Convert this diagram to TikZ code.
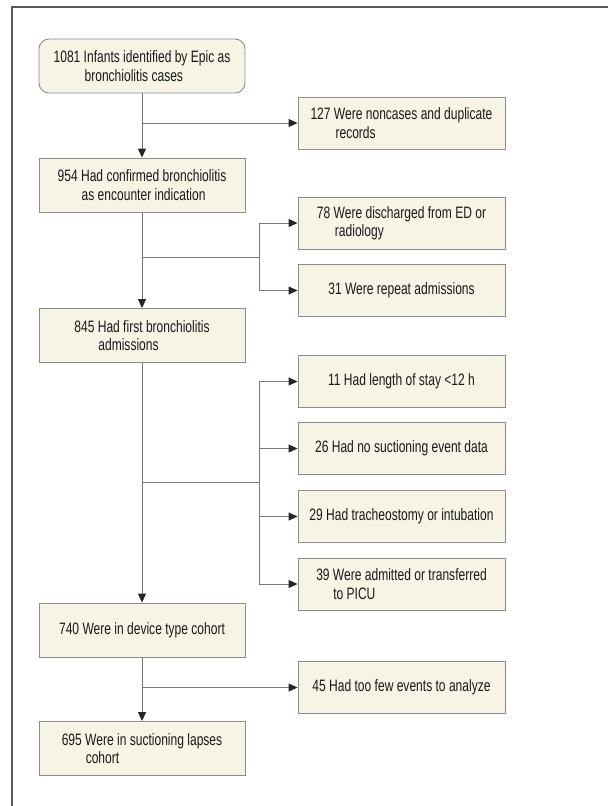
\documentclass[tikz,border=0pt]{standalone}
\usepackage{fontspec}
\setmainfont{Liberation Sans}[FakeStretch=0.73]
\usetikzlibrary{arrows.meta}

\definecolor{boxfill}{HTML}{F7F4E6}
\definecolor{boxline}{HTML}{8C8C8C}
\definecolor{flowline}{HTML}{7A7A7A}

\newcommand{\twoline}[3]{#1\\\hspace*{#2}#3}

\tikzset{
	stepbox/.style={draw=boxline, fill=boxfill, line width=0.9pt, minimum width=206pt, minimum height=54pt, inner sep=0pt, align=left, text=black!90, font=\fontsize{16.5}{18.5}\selectfont},
	sidebox/.style={stepbox, minimum width=207pt, minimum height=52pt},
	startbox/.style={stepbox, rounded corners=10pt},
	flow/.style={draw=flowline, line width=0.9pt},
	flowarrow/.style={flow, -{Triangle[length=9pt,width=8pt,color=black!85]}}
}

\begin{document}
\begin{tikzpicture}[x=1pt, y=-1pt]
		\useasboundingbox (0,0) rectangle (608,806);
		%frame
		\draw[line width=1.4pt, draw=black!65] (12,806) -- (12,7) -- (608,7);
		% main column
		\node[startbox] (b1081) at (142,66) {\twoline{1081 Infants identified by Epic as}{31pt}{bronchiolitis cases}};
		\node[stepbox] (b954) at (142,185) {\twoline{954 Had confirmed bronchiolitis}{24pt}{as encounter indication}};
		\node[stepbox] (b845) at (142,335.5) {\twoline{845 Had first bronchiolitis}{24pt}{admissions}};
		\node[stepbox] (b740) at (142,630) {740 Were in device type cohort};
		\node[stepbox] (b695) at (142,748.5) {\twoline{695 Were in suctioning lapses}{24pt}{cohort}};
		% exclusions
		\node[sidebox] (b127) at (401.5,123) {\twoline{127 Were noncases and duplicate}{25pt}{records}};
		\node[sidebox] (b78) at (401.5,223) {\twoline{78 Were discharged from ED or}{18pt}{radiology}};
		\node[sidebox] (b31) at (401.5,290.5) {31 Were repeat admissions};
		\node[sidebox] (b11) at (401.5,381.5) {11 Had length of stay <12 h};
		\node[sidebox] (b26) at (401.5,448.5) {26 Had no suctioning event data};
		\node[sidebox] (b29) at (401.5,516.5) {29 Had tracheostomy or intubation};
		\node[sidebox] (b39) at (401.5,584) {\twoline{39 Were admitted or transferred}{17pt}{to PICU}};
		\node[sidebox] (b45) at (401.5,687.5) {45 Had too few events to analyze};
		% branch points
		\coordinate (j1) at (142,123);
		\coordinate (j2) at (142,257);
		\coordinate (k2) at (259,257);
		\coordinate (j3) at (142,482);
		\coordinate (k3) at (259,482);
		\coordinate (j4) at (142,687.5);
		% down arrows
		\draw[flowarrow] (b1081) -- (b954);
		\draw[flowarrow] (b954) -- (b845);
		\draw[flowarrow] (b845) -- (b740);
		\draw[flowarrow] (b740) -- (b695);
		% side arrows
		\draw[flowarrow] (j1) -- (b127);
		\draw[flow] (j2) -- (k2);
		\draw[flowarrow] (k2) |- (b78);
		\draw[flowarrow] (k2) |- (b31);
		\draw[flow] (j3) -- (k3);
		\draw[flowarrow] (k3) |- (b11);
		\draw[flowarrow] (k3) |- (b26);
		\draw[flowarrow] (k3) |- (b29);
		\draw[flowarrow] (k3) |- (b39);
		\draw[flowarrow] (j4) -- (b45);
\end{tikzpicture}
\end{document}
